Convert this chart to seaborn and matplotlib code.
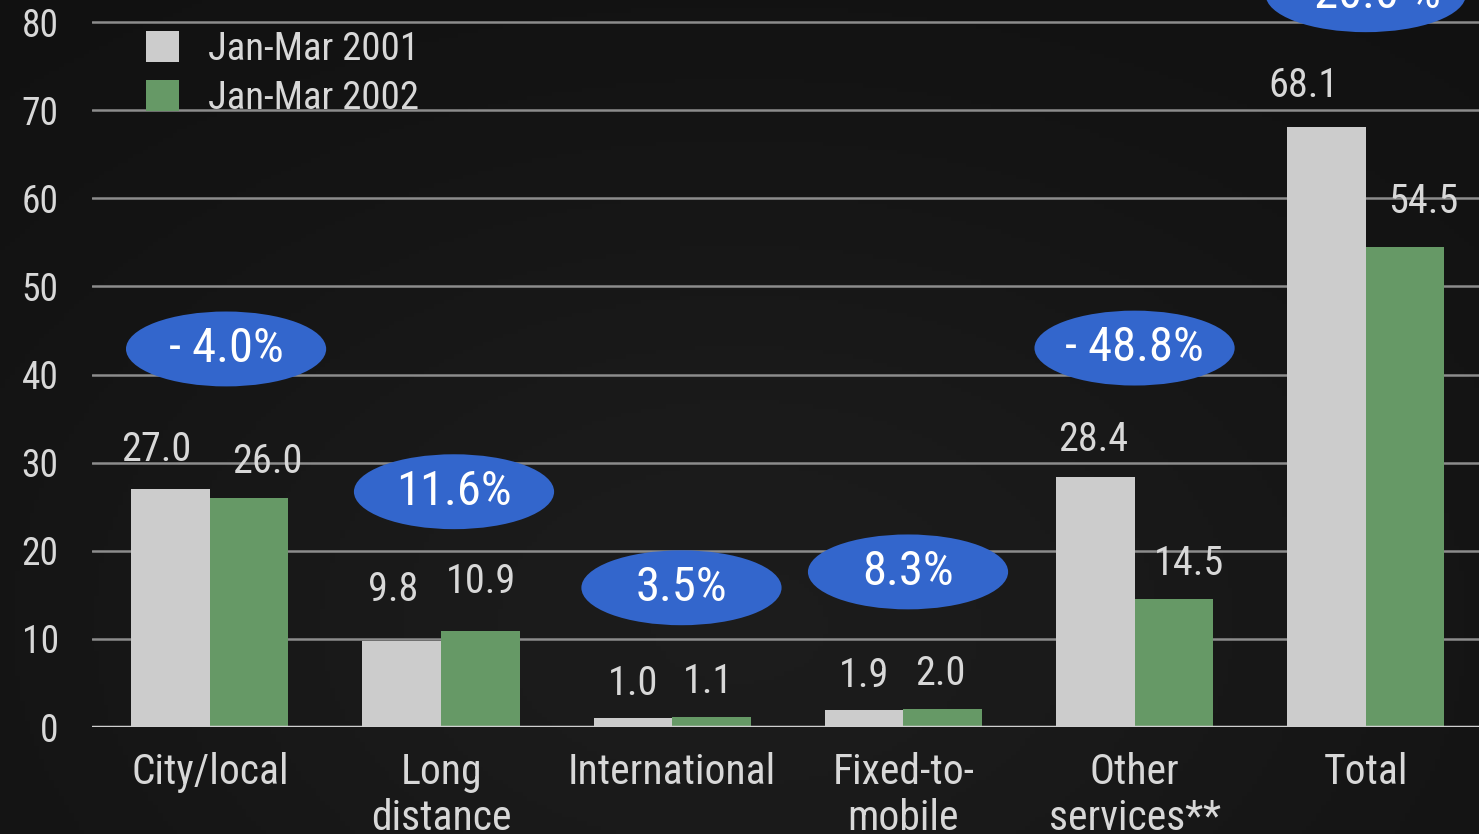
import numpy as np
import pandas as pd
import matplotlib
matplotlib.use('Agg')
import matplotlib.pyplot as plt
from matplotlib.patches import Ellipse, Patch
import seaborn as sns

categories = ['City/local', 'Long\ndistance', 'International', 'Fixed-to-\nmobile',
              'Other\nservices**', 'Total']
periods = ['Jan-Mar 2001', 'Jan-Mar 2002']
vals_2001 = [27.0, 9.8, 1.0, 1.9, 28.4, 68.1]
vals_2002 = [26.0, 10.9, 1.1, 2.0, 14.5, 54.5]
changes = ['- 4.0%', '11.6%', '3.5%', '8.3%', '- 48.8%', '- 20.0 %']
yticks = [0, 10, 20, 30, 40, 50, 60, 70, 80]

# layout only: bubble placement and value label nudges (pixels)
bubble_y = [42.9, 26.7, 15.8, 17.6, 43.0, 83.1]
bubble_dx = [0.07, 0.056, 0.04, 0.02, 0.0, 0.0]
label_dx = [[-14, -9, 0, 0, -2, -23], [18, 1, -3, -2, 15, 18]]
label_dy = [[40, 51, 35, 35, 37, 41], [36, 49, 36, 36, 36, 45]]

df = pd.DataFrame({
    'cat': categories * 2,
    'val': vals_2001 + vals_2002,
    'period': [periods[0]] * 6 + [periods[1]] * 6,
})

sns.set_theme(style='dark')
plt.rcParams['font.family'] = ['Roboto Condensed', 'Archivo Narrow', 'Roboto', 'DejaVu Sans']

TXT = '#d8d8d8'
GRAY = '#cccccc'
GREEN = '#669966'
BLUE = '#3366cc'
PT = 0.72  # points per pixel at dpi 100

fig = plt.figure(figsize=(14.79, 8.34), dpi=100)
fig.patch.set_facecolor('#141414')

# subtle dark background gradient
bg = fig.add_axes([0, 0, 1, 1], zorder=-5)
yy, xx = np.mgrid[0:1:200j, 0:1:300j]
grad = 0.065 + 0.045 * np.exp(-((xx - 0.5) ** 2 / 0.25 + (yy - 0.25) ** 2 / 0.35))
bg.imshow(grad, cmap='gray', vmin=0, vmax=1, aspect='auto', extent=[0, 1, 0, 1],
          origin='lower')
bg.axis('off')

ax = fig.add_axes([92 / 1479, 107 / 834, 1 - 92 / 1479, 1 - 107 / 834])
ax.patch.set_alpha(0)

sns.barplot(data=df, x='cat', y='val', hue='period', palette=[GRAY, GREEN],
            width=0.68, gap=0, saturation=1, legend=False, linewidth=0,
            ax=ax, zorder=3)

ax.set_xlim(-0.51, 5.49)
ax.set_ylim(0, 82.5)
ax.set_yticks(yticks)
ax.set_xlabel('')
ax.set_ylabel('')
for s in ax.spines.values():
    s.set_visible(False)
ax.grid(False)
for t in yticks[1:]:
    ax.axhline(t, color='#8c8c8c', lw=1.8, zorder=1)
ax.axhline(0, color='#d0d0d0', lw=2.5, zorder=4)

ax.tick_params(axis='y', length=0, pad=24, labelsize=27, labelcolor=TXT)
ax.tick_params(axis='x', length=0, pad=18, labelsize=30, labelcolor=TXT)
for lab in ax.get_xticklabels():
    lab.set_linespacing(1.15)
    lab.set_va('top')

# value labels above each bar
for k, cont in enumerate(ax.containers):
    for j, bar in enumerate(cont):
        h = bar.get_height()
        ax.annotate(f'{h:.1f}', (bar.get_x() + bar.get_width() / 2, h),
                    xytext=(label_dx[k][j] * PT, label_dy[k][j] * PT),
                    textcoords='offset points', ha='center', va='center',
                    fontsize=29, color=TXT, zorder=6)

for i, (txt, by) in enumerate(zip(changes, bubble_y)):
    cx = i + bubble_dx[i]
    ax.add_patch(Ellipse((cx, by), 0.866, 8.5, facecolor=BLUE, edgecolor='none',
                         zorder=5, clip_on=False))
    ax.text(cx, by, txt, ha='center', va='center', fontsize=35, color='white',
            zorder=6, clip_on=False)

handles = [Patch(facecolor=GRAY, edgecolor='none'), Patch(facecolor=GREEN, edgecolor='none')]
leg = ax.legend(handles, periods, loc='upper left', bbox_to_anchor=(0.039, 0.958),
                frameon=False, fontsize=28, handlelength=0.85, handleheight=0.85,
                handletextpad=0.75, labelspacing=0.32, borderpad=0, borderaxespad=0)
for t in leg.get_texts():
    t.set_color(TXT)

fig.savefig('out.png', dpi=100, facecolor=fig.get_facecolor())
